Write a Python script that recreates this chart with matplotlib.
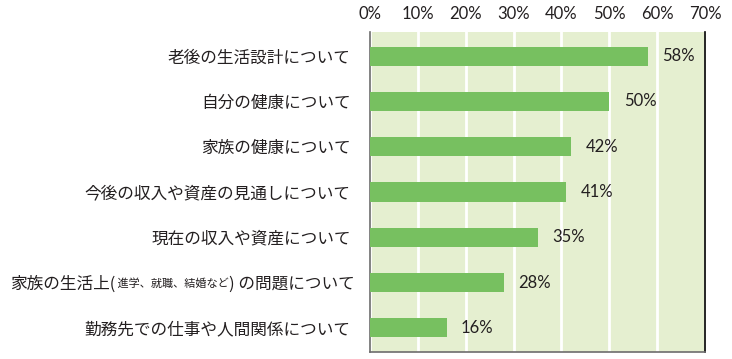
import matplotlib.pyplot as plt

plt.rcParams['font.family'] = ['Noto Sans CJK JP', 'DejaVu Sans']

# Data
categories = [
    '老後の生活設計について',
    '自分の健康について',
    '家族の健康について',
    '今後の収入や資産の見通しについて',
    '現在の収入や資産について',
    '家族の生活上( 進学、就職、結婚など) の問題について',
    '勤務先での仕事や人間関係について',
]
values = [58, 50, 42, 41, 35, 28, 16]
ticks = [0, 10, 20, 30, 40, 50, 60, 70]

# label with mixed font sizes (index 5)
mixed_parts = [('家族の生活上(', 12), (' 進学、就職、結婚など', 8), (') の問題について', 12)]
mixed_idx = 5

bar_color = '#77c060'
bg_color = '#e5efd0'
text_color = '#231f20'

fig = plt.figure(figsize=(7.32, 3.59), dpi=100)
ax = fig.add_axes([370 / 732, 1 - 352 / 359, 335 / 732, 320 / 359])
ax.set_facecolor(bg_color)

y = list(range(len(categories)))
ax.barh(y, values, height=0.42, color=bar_color, zorder=3)
for yi, v in zip(y, values):
    ax.text(v + 3.0, yi, f'{v}%', va='center', ha='left', fontsize=12,
            color=text_color, family=['Lato', 'DejaVu Sans'])

ax.set_xlim(0, 70)
ax.set_ylim(len(categories) - 0.47, -0.53)
ax.set_xticks(ticks)
ax.set_xticklabels([f'{t}%' for t in ticks], fontsize=12, color=text_color,
                   family=['Lato', 'DejaVu Sans'])
ax.xaxis.tick_top()
ax.tick_params(axis='x', length=0, pad=7)
ax.grid(axis='x', color='white', linewidth=2, zorder=1)

labels = [c if i != mixed_idx else '' for i, c in enumerate(categories)]
ax.set_yticks(y)
ax.set_yticklabels(labels, fontsize=12, color=text_color)
ax.tick_params(axis='y', length=0, pad=14)

ax.spines['top'].set_visible(False)
ax.spines['left'].set_color('#6d6d6d')
ax.spines['bottom'].set_color('#6d6d6d')
ax.spines['right'].set_color('black')
for s in ['left', 'bottom', 'right']:
    ax.spines[s].set_linewidth(1.2)

# draw the mixed-size label right to left
fig.canvas.draw()
renderer = fig.canvas.get_renderer()
x_right = (370 - 15) / 732
y_pos = ax.transData.transform((0, mixed_idx))[1] / fig.bbox.height
for txt, size in reversed(mixed_parts):
    t = fig.text(x_right, y_pos, txt, fontsize=size, color=text_color,
                 ha='right', va='center_baseline')
    w = t.get_window_extent(renderer).width / fig.bbox.width
    x_right -= w

fig.savefig('out.png', dpi=100)
